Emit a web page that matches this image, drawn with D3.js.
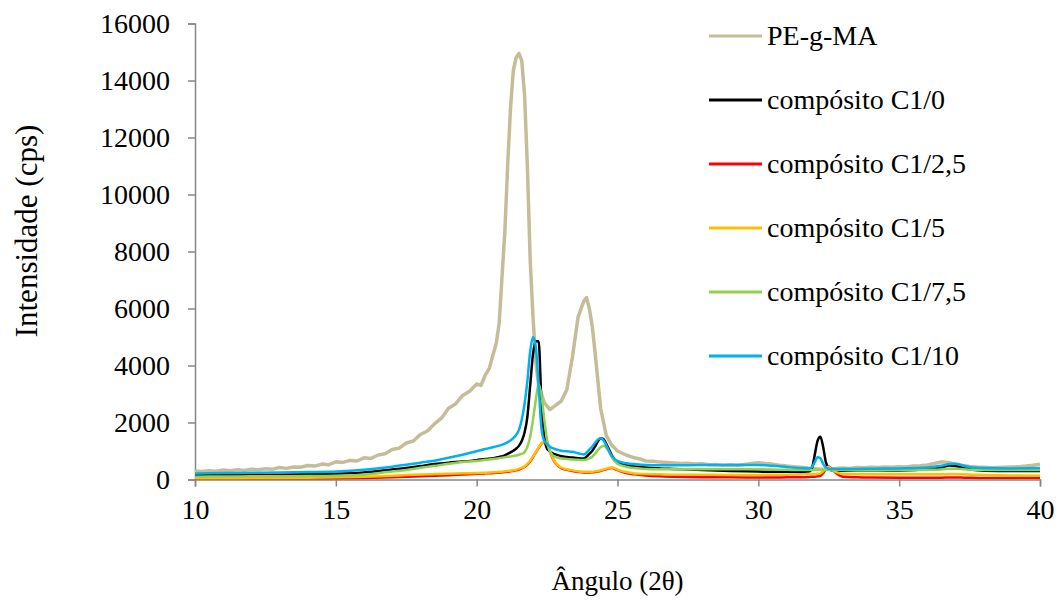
<!DOCTYPE html>
<html><head><meta charset="utf-8">
<script src="https://cdn.jsdelivr.net/npm/d3@7/dist/d3.min.js"></script>
<style>html,body{margin:0;padding:0;background:#fff;}svg{display:block;}text{font-family:"Liberation Serif","Times New Roman",serif;fill:#000;}</style>
</head><body>
<svg id="chart" width="1059" height="603"></svg>
<script>
// ---- data ----
const seriesNames = ["PE-g-MA", "compósito C1/0", "compósito C1/2,5", "compósito C1/5", "compósito C1/7,5", "compósito C1/10"];
const seriesColors = ["#c4bd97", "#000000", "#ff0000", "#ffc000", "#92d050", "#00b0f0"];
const xTicks = [10, 15, 20, 25, 30, 35, 40];
const yTicks = [0, 2000, 4000, 6000, 8000, 10000, 12000, 14000, 16000];

// PE-g-MA angles and intensities
const anglesPE = [10,10.25,10.5,10.75,11,11.25,11.5,11.75,12,12.25,12.5,12.75,13,13.25,13.5,13.75,
  14,14.25,14.5,14.75,15,15.25,15.5,15.75,16,16.25,16.5,16.75,17,17.25,17.5,17.75,
  18,18.25,18.5,18.75,19,19.25,19.5,19.75,
  20,20.15,20.3,20.45,20.6,20.7,20.8,
  21.0,21.1,21.2,21.3,21.4,21.5,21.6,21.7,21.8,21.9,22.0,22.1,22.2,
  22.4,22.6,22.8,23.0,23.2,23.4,23.6,23.8,
  23.9,24.0,24.1,24.2,24.3,24.4,
  24.6,24.8,25.0,25.3,25.6,25.8,
  26,26.25,26.5,26.75,27,27.25,27.5,27.75,28,28.25,28.5,28.75,29,29.25,29.5,29.75,
  30,30.25,30.5,30.75,31,31.25,31.5,31.75,32,32.25,32.5,32.75,33,33.25,33.5,33.75,
  34,34.25,34.5,34.75,35,35.25,35.5,35.75,36,36.25,36.5,36.75,37,37.25,37.5,37.75,
  38,38.25,38.5,38.75,39,39.25,39.5,39.75,40];
const pegma = [300,280,310,290,330,310,340,320,360,340,380,360,420,390,440,430,
  490,470,540,520,620,600,670,650,760,740,860,900,1050,1100,1280,1350,
  1580,1700,1950,2150,2500,2650,2950,3100,
  3350,3300,3650,3900,4450,4800,5500,
  8700,11000,13000,14350,14800,14950,14700,13500,11000,7700,5700,4100,3300,
  2700,2450,2600,2750,3150,4300,5700,6250,
  6380,6000,5400,4500,3500,2500,
  1550,1200,1000,860,760,720,
  650,640,610,600,580,560,570,540,550,520,530,500,520,500,530,560,
  590,560,540,500,470,450,430,400,380,360,370,390,400,390,420,410,
  430,420,440,430,450,440,470,480,510,560,620,600,540,490,460,440,
  430,410,420,430,440,450,470,500,540];

// composites angles
const angles = [10,11,12,13,14,15,16,17,
  17.5,18,18.5,19,19.5,20,
  20.3,20.6,20.8,
  21.0,21.1,21.2,21.3,21.4,21.5,21.6,21.7,21.8,21.9,22.0,22.1,22.2,22.3,22.4,22.5,22.6,22.7,22.8,
  23.0,23.2,23.4,23.6,23.8,
  24.0,24.1,24.2,24.3,24.4,24.5,24.6,24.7,24.8,
  25.0,25.3,25.6,
  26,26.5,27,
  28,29,30,
  30.5,31,31.5,31.8,
  31.9,32.0,32.1,32.2,32.3,32.4,32.5,32.6,
  32.8,33,33.5,34,
  35,36,36.5,36.8,37,37.3,37.6,
  38,39,40];
const c1_0 = [140,150,160,170,180,200,250,350,
  400,470,540,590,630,680,
  720,750,790,
  850,900,950,1010,1080,1180,1350,1650,2200,3300,4400,4850,4850,2700,1500,1080,980,920,880,
  820,790,770,750,740,
  900,1000,1150,1330,1450,1420,1250,1050,850,
  600,500,460,
  420,390,370,
  330,300,280,
  270,270,270,280,
  380,850,1350,1500,1150,600,380,320,
  310,310,310,310,
  320,360,420,490,470,400,340,
  310,300,300];
const c1_25 = [10,12,15,20,25,35,50,80,
  100,115,130,150,175,200,
  215,230,245,
  265,275,290,300,320,350,390,440,520,640,790,950,1110,1260,1320,1230,980,740,570,
  400,340,300,270,250,
  250,255,265,280,300,330,360,390,400,
  330,230,180,
  140,110,95,
  80,75,70,
  70,75,80,90,
  95,100,110,130,220,370,460,380,
  190,100,80,70,
  65,65,65,70,70,65,60,
  55,50,50];
const c1_5 = [40,45,50,55,65,75,95,130,
  155,175,190,200,215,230,
  240,255,270,
  285,295,310,325,345,375,410,460,545,665,810,965,1120,1270,1330,1250,1000,760,590,
  420,360,320,290,270,
  270,275,285,300,320,350,380,410,420,
  350,260,210,
  190,180,170,
  165,160,160,
  165,170,180,190,
  190,195,200,215,290,400,440,350,
  240,200,190,185,
  180,180,185,190,190,185,170,
  160,140,130];
const c1_75 = [100,105,110,115,120,130,170,280,
  330,410,480,550,610,650,
  690,720,750,
  780,795,810,825,845,870,900,960,1150,1500,2100,2800,3350,2950,2100,1400,1000,850,790,
  740,720,700,690,680,
  740,800,900,1030,1130,1180,1120,960,780,
  550,450,400,
  370,360,360,
  360,360,360,
  350,340,330,330,
  330,330,330,330,330,330,330,330,
  330,330,320,320,
  330,340,350,380,380,360,340,
  330,330,330];
const c1_10 = [210,225,235,245,260,280,340,450,
  520,590,660,760,870,990,
  1070,1140,1190,
  1260,1310,1370,1450,1560,1740,2100,2650,3450,4500,5000,4650,3300,1800,1350,1250,1150,1100,1060,
  1010,990,975,920,880,
  1050,1150,1280,1400,1450,1380,1200,1000,820,
  650,570,540,
  510,500,500,
  505,505,510,
  480,440,400,390,
  430,600,780,750,550,420,380,370,
  370,370,370,380,
  390,420,480,540,550,480,420,
  400,390,400];

// ---- chart ----
const svg = d3.select("#chart");
const margin = {left: 195, right: 1040, top: 23.5, bottom: 479.5};
const x = d3.scaleLinear().domain([10, 40]).range([margin.left, margin.right]);
const y = d3.scaleLinear().domain([0, 16000]).range([margin.bottom, margin.top]);
const FS = 28;

const seriesX = [anglesPE, angles, angles, angles, angles, angles];
const seriesY = [pegma, c1_0, c1_25, c1_5, c1_75, c1_10];

// axes
const xAxis = svg.append("g").attr("transform", `translate(0,${margin.bottom})`)
  .call(d3.axisBottom(x).tickValues(xTicks).tickFormat(d3.format("d")).tickSize(7).tickPadding(13));
const yAxis = svg.append("g").attr("transform", `translate(${margin.left},0)`)
  .call(d3.axisLeft(y).tickValues(yTicks).tickFormat(d3.format("d")).tickSize(7).tickPadding(18));
[xAxis, yAxis].forEach(g => {
  g.selectAll("path.domain").attr("stroke", "#868686").attr("stroke-width", 1.5);
  g.selectAll(".tick line").attr("stroke", "#868686").attr("stroke-width", 1.5);
  g.selectAll(".tick text").attr("font-size", FS).attr("font-family", "Liberation Serif").attr("fill", "#000");
});

// lines
svg.append("defs").append("clipPath").attr("id", "pc").append("rect")
  .attr("x", margin.left).attr("y", margin.top - 5).attr("width", margin.right - margin.left).attr("height", margin.bottom - margin.top + 5);
const lineG = svg.append("g").attr("clip-path", "url(#pc)");
seriesY.forEach((vals, i) => {
  const pts = seriesX[i].map((a, j) => [a, vals[j]]);
  const gen = d3.line().x(d => x(d[0])).y(d => y(d[1]))
    .curve(i === 0 ? d3.curveLinear : d3.curveMonotoneX);
  lineG.append("path").datum(pts).attr("d", gen)
    .attr("fill", "none").attr("stroke", seriesColors[i])
    .attr("stroke-width", i === 0 ? 3.5 : 2.5).attr("stroke-linejoin", "round");
});

// legend
const leg = svg.append("g");
seriesNames.forEach((n, i) => {
  const yy = 36 + i * 64;
  leg.append("line").attr("x1", 709).attr("x2", 762).attr("y1", yy).attr("y2", yy)
    .attr("stroke", seriesColors[i]).attr("stroke-width", 3);
  leg.append("text").attr("x", 767).attr("y", yy).attr("dy", "0.33em")
    .attr("font-size", FS).text(n);
});

// titles
svg.append("text").attr("x", x(25)).attr("y", 590).attr("text-anchor", "middle")
  .attr("font-size", 27).text("Ângulo (2θ)");
svg.append("text").attr("transform", `translate(37,231) rotate(-90)`)
  .attr("text-anchor", "middle").attr("font-size", 31).text("Intensidade (cps)");
</script>
</body></html>
